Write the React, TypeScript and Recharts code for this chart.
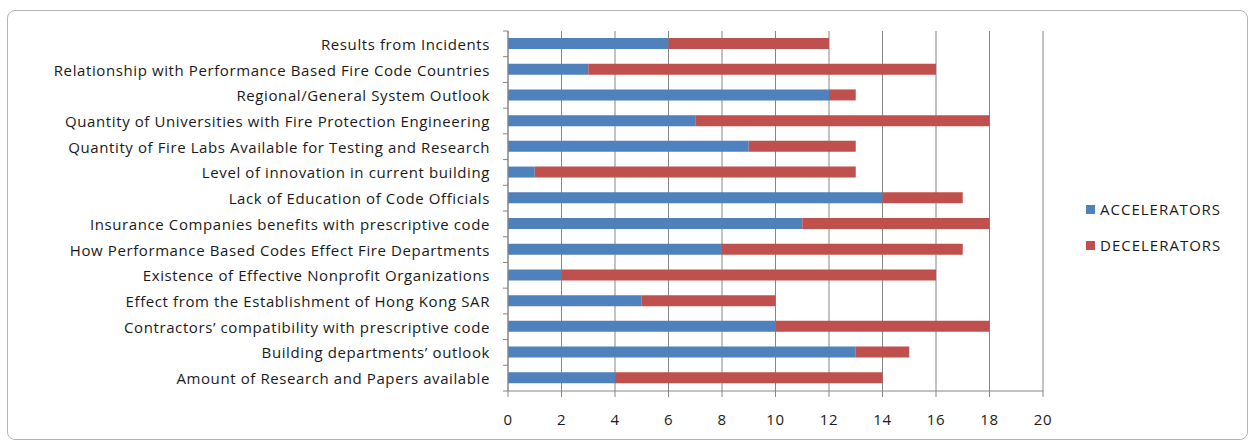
import React from "react";
import { BarChart, Bar, XAxis, YAxis, CartesianGrid } from "recharts";

const categories = [
  "Results from Incidents",
  "Relationship with Performance Based Fire Code Countries",
  "Regional/General System Outlook",
  "Quantity of Universities with Fire Protection Engineering",
  "Quantity of Fire Labs Available for Testing and Research",
  "Level of innovation in current building",
  "Lack of Education of Code Officials",
  "Insurance Companies benefits with prescriptive code",
  "How Performance Based Codes Effect Fire Departments",
  "Existence of Effective Nonprofit Organizations",
  "Effect from the Establishment of Hong Kong SAR",
  "Contractors\u2019 compatibility with prescriptive code",
  "Building departments\u2019 outlook",
  "Amount of Research and Papers available",
];
const accelerators = [6, 3, 12, 7, 9, 1, 14, 11, 8, 2, 5, 10, 13, 4];
const decelerators = [6, 13, 1, 11, 4, 12, 3, 7, 9, 14, 5, 8, 2, 10];
const xTicks = [0, 2, 4, 6, 8, 10, 12, 14, 16, 18, 20];
const seriesNames = ["ACCELERATORS", "DECELERATORS"];
const seriesColors = ["#4F81BD", "#C0504D"];

const data = categories.map((c, i) => ({
  name: c,
  ACCELERATORS: accelerators[i],
  DECELERATORS: decelerators[i],
}));

const W = 1252;
const H = 443;
const PLOT_LEFT = 508;
const PLOT_TOP = 31;
const PLOT_BOTTOM = 391;
const PLOT_RIGHT = 1043;
const BAND = (PLOT_BOTTOM - PLOT_TOP) / categories.length;
const FONT = "'Open Sans', 'Noto Sans', sans-serif";
const FS = 15;
const LS = 0.6;
const GRID = "#868686";
const TEXT = "#1a1a1a";

const YTick = (props: any) => {
  const { y, payload, index } = props;
  return (
    <g>
      <text
        x={PLOT_LEFT - 18}
        y={y}
        textAnchor="end"
        dominantBaseline="central"
        fontFamily={FONT}
        fontSize={FS}
        fill={TEXT}
        style={{ letterSpacing: LS }}
      >
        {payload.value}
      </text>
      <line x1={PLOT_LEFT - 5} x2={PLOT_LEFT} y1={y - BAND / 2} y2={y - BAND / 2} stroke={GRID} />
      {index === categories.length - 1 && (
        <line x1={PLOT_LEFT - 5} x2={PLOT_LEFT} y1={y + BAND / 2} y2={y + BAND / 2} stroke={GRID} />
      )}
    </g>
  );
};

export default function App() {
  return (
    <div style={{ position: "absolute", left: 0, top: 0, width: W, height: H, background: "#fff" }}>
      <div
        style={{
          position: "absolute",
          left: 7,
          top: 10,
          width: 1241,
          height: 430,
          border: "1px solid #b5b5b5",
          borderRadius: 8,
          boxSizing: "border-box",
        }}
      />
      <div style={{ position: "absolute", left: 0, top: 0 }}>
        <BarChart
          width={W}
          height={H}
          data={data}
          layout="vertical"
          margin={{ top: PLOT_TOP, right: W - PLOT_RIGHT, bottom: 22, left: 0 }}
          barCategoryGap={0}
        >
          <CartesianGrid horizontal={false} stroke={GRID} />
          <XAxis
            type="number"
            domain={[0, 20]}
            ticks={xTicks}
            interval={0}
            height={30}
            axisLine={{ stroke: GRID }}
            tickLine={{ stroke: GRID }}
            tickSize={6}
            tickMargin={17}
            tick={{ fontFamily: FONT, fontSize: FS, fill: TEXT, style: { letterSpacing: LS } }}
          />
          <YAxis
            type="category"
            dataKey="name"
            width={PLOT_LEFT}
            axisLine={{ stroke: GRID }}
            tickLine={false}
            interval={0}
            tick={<YTick />}
          />
          <Bar dataKey="ACCELERATORS" stackId="a" fill={seriesColors[0]} barSize={11} isAnimationActive={false} />
          <Bar dataKey="DECELERATORS" stackId="a" fill={seriesColors[1]} barSize={11} isAnimationActive={false} />
        </BarChart>
      </div>
      <div
        style={{
          position: "absolute",
          left: 1086,
          top: 191,
          fontFamily: FONT,
          fontSize: FS,
          letterSpacing: LS + 0.4,
          color: TEXT,
        }}
      >
        {seriesNames.map((n, i) => (
          <div key={n} style={{ display: "flex", alignItems: "center", height: 36 }}>
            <span
              style={{ width: 9, height: 9, background: seriesColors[i], display: "inline-block", marginRight: 5 }}
            />
            <span>{n}</span>
          </div>
        ))}
      </div>
    </div>
  );
}
